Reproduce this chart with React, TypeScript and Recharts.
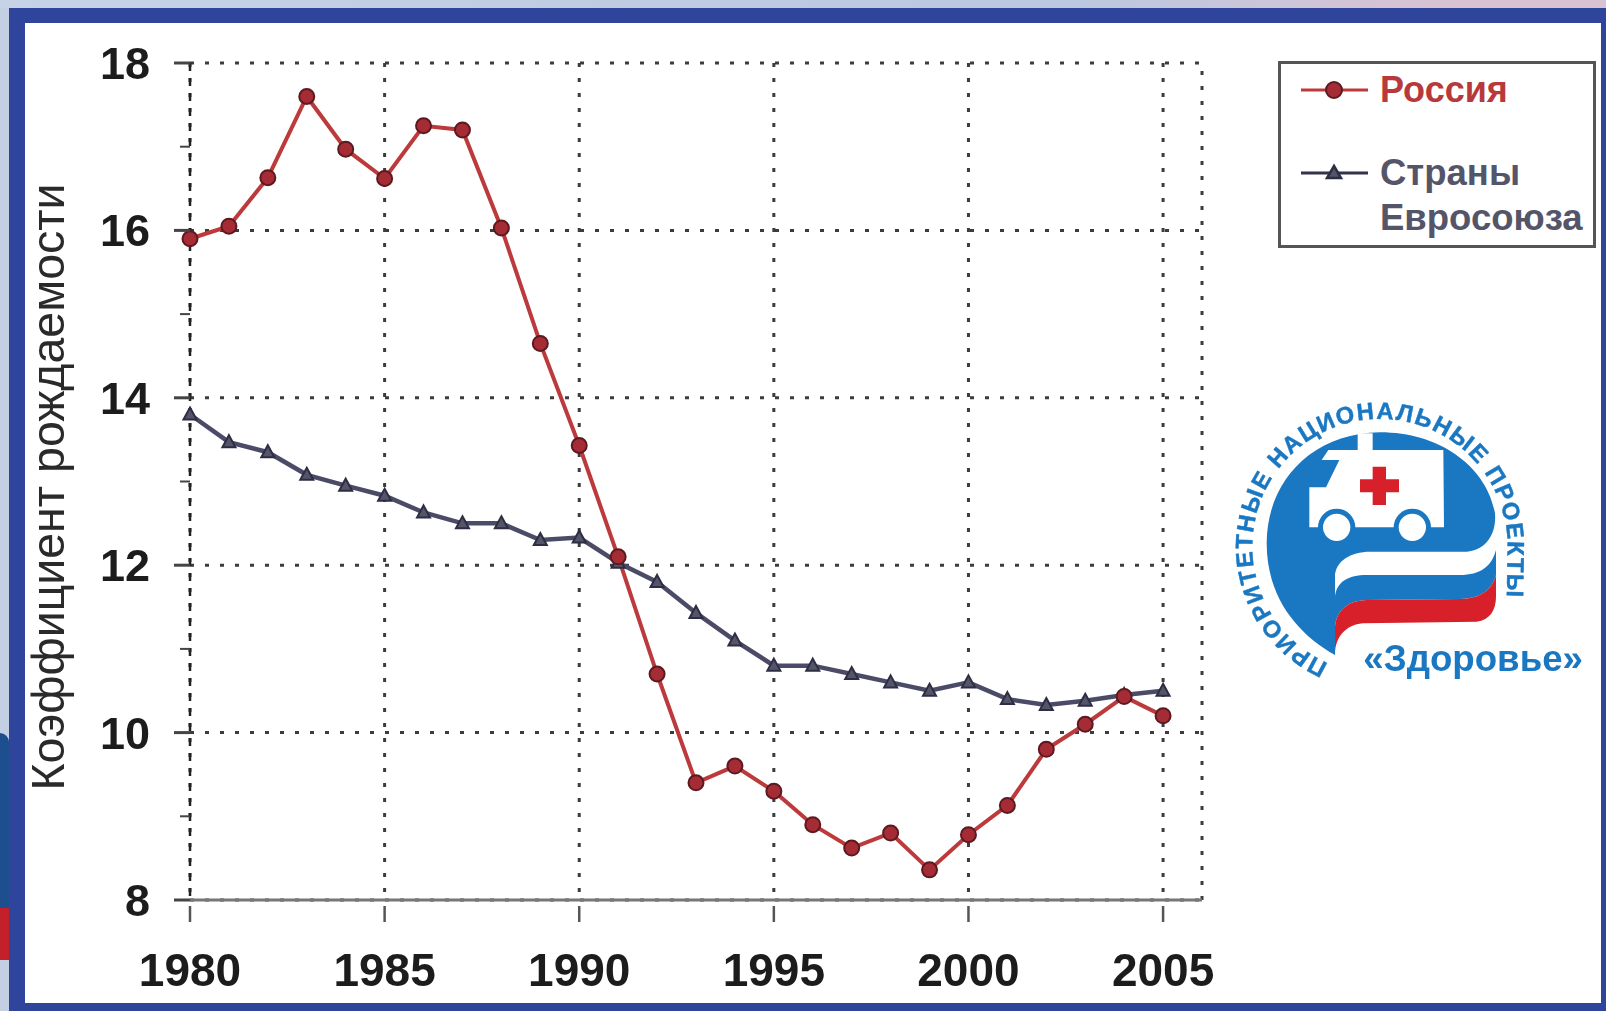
import React from "react";
import { LineChart, Line, XAxis, YAxis, CartesianGrid, Legend, ReferenceLine, Label } from "recharts";

const years = [1980,1981,1982,1983,1984,1985,1986,1987,1988,1989,1990,1991,1992,1993,1994,1995,1996,1997,1998,1999,2000,2001,2002,2003,2004,2005];
const russia = [15.9,16.05,16.63,17.6,16.97,16.62,17.25,17.2,16.03,14.65,13.43,12.1,10.7,9.4,9.6,9.3,8.9,8.62,8.8,8.36,8.78,9.13,9.8,10.1,10.43,10.2];
const eu = [13.8,13.47,13.35,13.08,12.95,12.83,12.63,12.5,12.5,12.3,12.33,12.03,11.8,11.43,11.1,10.8,10.8,10.7,10.6,10.5,10.6,10.4,10.33,10.38,10.45,10.5];
const xTicks = [1980,1985,1990,1995,2000,2005];
const yTicks = [8,9,10,11,12,13,14,15,16,17,18];
const yGrid = [8,10,12,14,16,18];
const russiaName = "Россия";
const euName = "Страны Евросоюза";
const yTitle = "Коэффициент рождаемости";
const logoArc = "ПРИОРИТЕТНЫЕ НАЦИОНАЛЬНЫЕ ПРОЕКТЫ";
const logoName = "«Здоровье»";

const rows = years.map((year, i) => ({ year, russia: russia[i], eu: eu[i] }));

const FONT = "'Liberation Sans', Arial, sans-serif";
const RED = "#bd3a3c";
const SLATE = "#4b4b68";
const BLUE = "#1a78c2";
const DOT = "4 11";

const XTick = ({ x, y, payload }: any) => (
  <g>
    <line x1={x} x2={x} y1={y - 2} y2={y + 14} stroke="#555" strokeWidth={2.5} />
    <text x={x} y={y + 86} dy={-8} textAnchor="middle" fontFamily={FONT} fontWeight="bold" fontSize={46} fill="#1c1c1c">{payload?.value}</text>
  </g>
);

const YTick = ({ x, y, payload }: any) => {
  const major = payload?.value % 2 === 0;
  return (
    <g>
      <line x1={major ? 174 : 180} x2={190} y1={y} y2={y} stroke="#444" strokeWidth={major ? 3 : 2} />
      {major && (
        <text x={150} y={y + 16} textAnchor="end" fontFamily={FONT} fontWeight="bold" fontSize={45} fill="#1c1c1c">{payload?.value}</text>
      )}
    </g>
  );
};

const RussiaDot = ({ cx, cy }: any) => (
  <circle cx={cx} cy={cy} r={7.5} fill="#a52c34" stroke="#5c1a20" strokeWidth={2} />
);

const EuDot = ({ cx, cy }: any) => (
  <path d={`M${cx} ${cy - 7} L${cx + 6.5} ${cy + 5} L${cx - 6.5} ${cy + 5} Z`} fill="#55556a" stroke="#2d2d44" strokeWidth={2} />
);

const LegendBox = ({ payload }: any) => {
  const items = payload ?? [];
  const a = items.find((p: any) => p.dataKey === "russia");
  const b = items.find((p: any) => p.dataKey === "eu");
  const words = String(b?.value ?? euName).split(" ");
  return (
    <svg width={318} height={187} style={{ display: "block" }}>
      <rect x={1.5} y={1.5} width={315} height={184} fill="#fff" stroke="#555" strokeWidth={3} />
      <line x1={23} x2={90} y1={29} y2={29} stroke={RED} strokeWidth={3} />
      <circle cx={56} cy={29} r={8} fill="#a52c34" stroke="#5c1a20" strokeWidth={2} />
      <text x={102} y={41} fontFamily={FONT} fontWeight="bold" fontSize={36} fill="#b8393b">{a?.value ?? russiaName}</text>
      <line x1={23} x2={90} y1={112} y2={112} stroke="#33334a" strokeWidth={3} />
      <path d="M56 105 L63 117 L49 117 Z" fill="#55556a" stroke="#2d2d44" strokeWidth={2.5} />
      <text x={102} y={124} fontFamily={FONT} fontWeight="bold" fontSize={36.5} fill="#55556a">{words[0]}</text>
      <text x={102} y={169} fontFamily={FONT} fontWeight="bold" fontSize={36.5} fill="#55556a">{words[1]}</text>
    </svg>
  );
};

const Logo = () => (
  <svg width={386} height={300} viewBox="0 0 1158 900" style={{ position: "absolute", left: 1220, top: 400 }}>
    <defs>
      <path id="logo-arc" d="M325 790 A 383 383 0 1 1 863 440 L 858 700" fill="none" />
    </defs>
    <path d="M345 765 C 230 700 140 590 140 430 C 140 250 270 100 480 97 C 660 97 800 200 825 340 C 830 400 800 450 740 455 L 440 455 C 380 460 345 490 345 530 Z" fill={BLUE} />
    <path d="M268 262 L318 262 L358 180 L305 180 L325 150 L413 150 L413 100 L458 100 L458 150 L670 150 L672 382 L268 382 Z" fill="#fff" />
    <circle cx={350} cy={382} r={56} fill={BLUE} />
    <circle cx={577} cy={382} r={56} fill={BLUE} />
    <circle cx={350} cy={382} r={41} fill="#fff" />
    <circle cx={577} cy={382} r={41} fill="#fff" />
    <path d="M458 200 H498 V238 H537 V277 H498 V315 H458 V277 H420 V238 H458 Z" fill="#d8202a" />
    <path d="M345 590 C 350 545 385 525 440 525 L 720 525 C 780 525 815 500 828 450 L 828 525 C 815 570 785 595 720 597 L 440 600 C 385 602 350 630 345 680 Z" fill={BLUE} />
    <path d="M345 765 C 345 700 390 672 430 670 L 770 665 C 810 660 828 630 828 590 L 828 525 C 815 570 785 595 720 597 L 440 600 C 385 602 350 630 345 680 Z" fill="#d8202a" />
    <text fontFamily={FONT} fontWeight="bold" fontSize={71} fill={BLUE} stroke={BLUE} strokeWidth={1.5} letterSpacing={5}>
      <textPath href="#logo-arc">{logoArc}</textPath>
    </text>
    <text x={430} y={812} fontFamily={FONT} fontWeight="bold" fontSize={110} fill={BLUE}>{logoName}</text>
  </svg>
);

export default function App() {
  return (
    <div style={{ position: "absolute", left: 0, top: 0, width: 1606, height: 1011, overflow: "hidden", background: "#c3cfe3" }}>
      <div style={{ position: "absolute", left: 0, top: 0, width: 1606, height: 8, background: "linear-gradient(90deg,#c6d2e6 0%,#b9c8e0 65%,#d9c3d3 90%,#d9c3d3 100%)" }} />
      <div style={{ position: "absolute", left: 0, top: 733, width: 9, height: 175, background: "#1d4f8f", borderTopRightRadius: 9 }} />
      <div style={{ position: "absolute", left: 0, top: 908, width: 9, height: 52, background: "#c4202c" }} />
      <div style={{ position: "absolute", left: 9, top: 8, width: 1592, height: 995, background: "#fff", border: "solid #2f459b", borderWidth: "15px 0 0 16px", boxSizing: "border-box" }} />
      <div style={{ position: "absolute", left: 9, top: 1003, width: 1597, height: 8, background: "#2f459b" }} />
      <div style={{ position: "absolute", left: 1601, top: 8, width: 5, height: 1003, background: "#2f459b" }} />
      <div style={{ position: "absolute", left: 0, top: 0, filter: "blur(0.7px)" }}>
        <LineChart width={1606} height={1003} data={rows} margin={{ top: 63, right: 404, bottom: 0, left: 0 }}>
          <CartesianGrid stroke="#3c3c3c" strokeWidth={3} strokeDasharray={DOT} horizontalValues={yGrid} verticalValues={xTicks} />
          <XAxis dataKey="year" type="number" domain={[1980, 2006]} ticks={xTicks} height={103} tick={<XTick />} tickLine={false} axisLine={{ stroke: "#777", strokeWidth: 3 }} interval={0} />
          <YAxis type="number" domain={[8, 18]} ticks={yTicks} width={190} tick={<YTick />} tickLine={false} axisLine={{ stroke: "#222", strokeWidth: 2.5, strokeDasharray: "8 7" }} interval={0}>
            <Label content={() => (
              <text transform="translate(64 487) rotate(-90)" textAnchor="middle" fontFamily={FONT} fontSize={46.5} fill="#2a2a2a">{yTitle}</text>
            )} />
          </YAxis>
          <ReferenceLine x={2006} stroke="#3c3c3c" strokeWidth={3} strokeDasharray={DOT} />
          <Legend layout="vertical" align="center" verticalAlign="middle" content={<LegendBox />} wrapperStyle={{ position: "absolute", left: 1278, top: 61, width: 318, height: 187, margin: 0 }} />
          <Line dataKey="eu" name={euName} stroke={SLATE} strokeWidth={4.5} dot={<EuDot />} isAnimationActive={false} />
          <Line dataKey="russia" name={russiaName} stroke={RED} strokeWidth={4} dot={<RussiaDot />} isAnimationActive={false} />
        </LineChart>
        <Logo />
      </div>
    </div>
  );
}
